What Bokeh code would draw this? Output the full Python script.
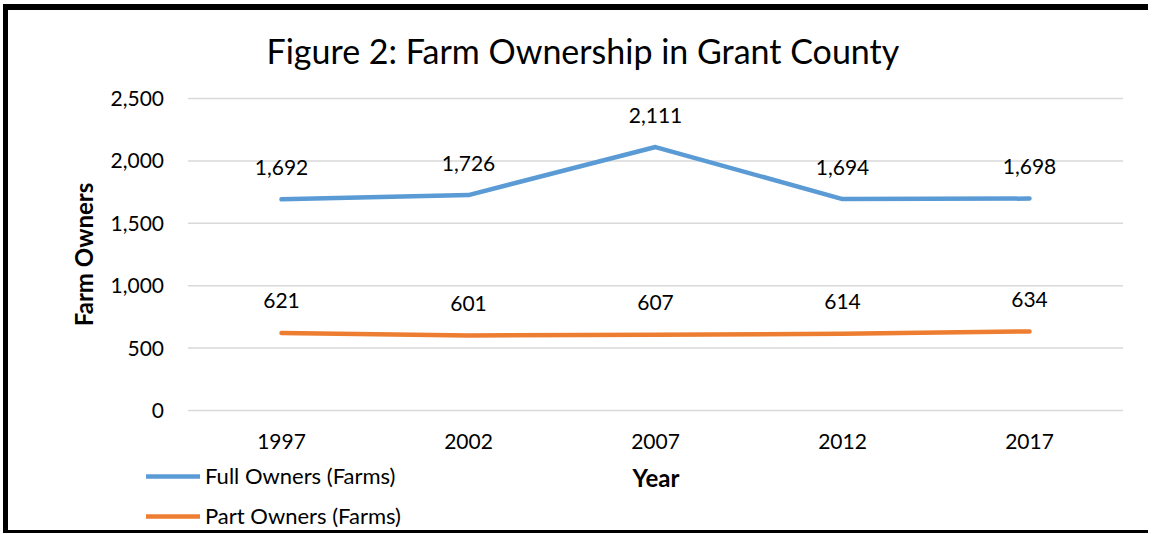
from bokeh.plotting import figure
from bokeh.models import (ColumnDataSource, LabelSet, Legend, LegendItem,
                          NumeralTickFormatter, FixedTicker, Range1d)
from bokeh.embed import file_html
from bokeh.resources import INLINE
from bokeh.core.properties import value

# ---------------- data ----------------
years = [1997, 2002, 2007, 2012, 2017]
full_owners = [1692, 1726, 2111, 1694, 1698]
part_owners = [621, 601, 607, 614, 634]
y_ticks = [0, 500, 1000, 1500, 2000, 2500]
series_names = ["Full Owners (Farms)", "Part Owners (Farms)"]
title_text = "Figure 2: Farm Ownership in Grant County"
x_title = "Year"
y_title = "Farm Owners"

# ---------------- layout constants (pixels on the canvas) ----------------
FONT = "Lato"
BLUE = "#5B9BD5"
ORANGE = "#ED7D31"
W, H = 1145, 529              # canvas size (includes the css border widths)
TOP = 62                      # room for the title
X_FIRST_PX, X_LAST_PX = 273, 1021
Y_ZERO_PX, Y_MAX_PX = 400, 88

half_band = (years[1] - years[0]) / 2
ppx = (years[-1] - years[0]) / (X_LAST_PX - X_FIRST_PX)
x_start = years[0] - X_FIRST_PX * ppx
x_end = years[-1] + (W - X_LAST_PX) * ppx
upp = y_ticks[-1] / (Y_ZERO_PX - Y_MAX_PX)
y_start = -(H - Y_ZERO_PX) * upp
y_end = y_ticks[-1] + (Y_MAX_PX - TOP) * upp

p = figure(x_range=Range1d(x_start, x_end), y_range=Range1d(y_start, y_end),
           width=W, height=H, output_backend="svg", toolbar_location=None,
           min_border_left=0, min_border_right=0, min_border_top=TOP, min_border_bottom=0)
p.styles = {"border-left": "5px solid black", "border-top": "6px solid black",
            "border-bottom": "3px solid black", "border-right": "none",
            "margin-left": "3px", "margin-top": "4px"}

p.title.text = title_text
p.title.align = "left"
p.title.offset = 258
p.title.standoff = 4
p.title.vertical_align = "bottom"
p.title.text_font = FONT
p.title.text_font_size = "34px"
p.title.text_font_style = "normal"
p.title.text_color = "#000000"

# gridlines limited to the plot area (tick values from y_ticks)
x_lo = years[0] - half_band
x_hi = years[-1] + half_band
p.segment(x0=[x_lo] * len(y_ticks), x1=[x_hi] * len(y_ticks), y0=y_ticks, y1=y_ticks,
          line_color="#D9D9D9", line_width=1.5)

src_full = ColumnDataSource(dict(x=years, y=full_owners, t=[f"{v:,}" for v in full_owners]))
src_part = ColumnDataSource(dict(x=years, y=part_owners, t=[f"{v:,}" for v in part_owners]))

r1 = p.line("x", "y", source=src_full, line_color=BLUE, line_width=4.5,
            line_cap="round", line_join="round")
r2 = p.line("x", "y", source=src_part, line_color=ORANGE, line_width=4.5,
            line_cap="round", line_join="round")

for src in (src_full, src_part):
    p.add_layout(LabelSet(x="x", y="y", text="t", source=src, y_offset=32,
                          text_align="center", text_baseline="middle",
                          text_font=value(FONT), text_font_size="21px", text_color="#000000"))

for ax in (p.xaxis[0], p.yaxis[0]):
    ax.axis_line_color = None
    ax.major_tick_line_color = None
    ax.minor_tick_line_color = None
    ax.major_tick_in = 0
    ax.major_tick_out = 0
    ax.major_label_text_font = FONT
    ax.major_label_text_font_size = "21px"
    ax.major_label_text_color = "#000000"
    ax.axis_label_text_font = FONT
    ax.axis_label_text_font_size = "24px"
    ax.axis_label_text_font_style = "bold"
    ax.axis_label_text_color = "#000000"

p.yaxis.ticker = FixedTicker(ticks=y_ticks)
p.yaxis.formatter = NumeralTickFormatter(format="0,0")
p.yaxis.bounds = (y_ticks[0], y_ticks[-1])
p.yaxis.fixed_location = x_lo
p.yaxis.major_label_standoff = 24
p.yaxis.axis_label = y_title
p.yaxis.axis_label_standoff = 10

p.xaxis.ticker = FixedTicker(ticks=years)
p.xaxis.bounds = (x_lo, x_hi)
p.xaxis.fixed_location = y_ticks[0]
p.xaxis.major_label_standoff = 23
p.xaxis.axis_label = x_title
p.xaxis.axis_label_standoff = 11

p.xgrid.visible = False
p.ygrid.visible = False
p.outline_line_color = None
p.background_fill_color = "white"
p.border_fill_color = "white"

legend = Legend(items=[LegendItem(label=series_names[0], renderers=[r1]),
                       LegendItem(label=series_names[1], renderers=[r2])],
                location=(138, 10), orientation="vertical",
                padding=0, margin=0, spacing=13, glyph_width=54, glyph_height=26,
                label_height=26, label_standoff=5,
                label_text_font=FONT, label_text_font_size="22px",
                label_text_color="#000000",
                border_line_color=None, background_fill_alpha=0)
p.add_layout(legend)

open("out.html", "w").write(file_html(p, INLINE))
